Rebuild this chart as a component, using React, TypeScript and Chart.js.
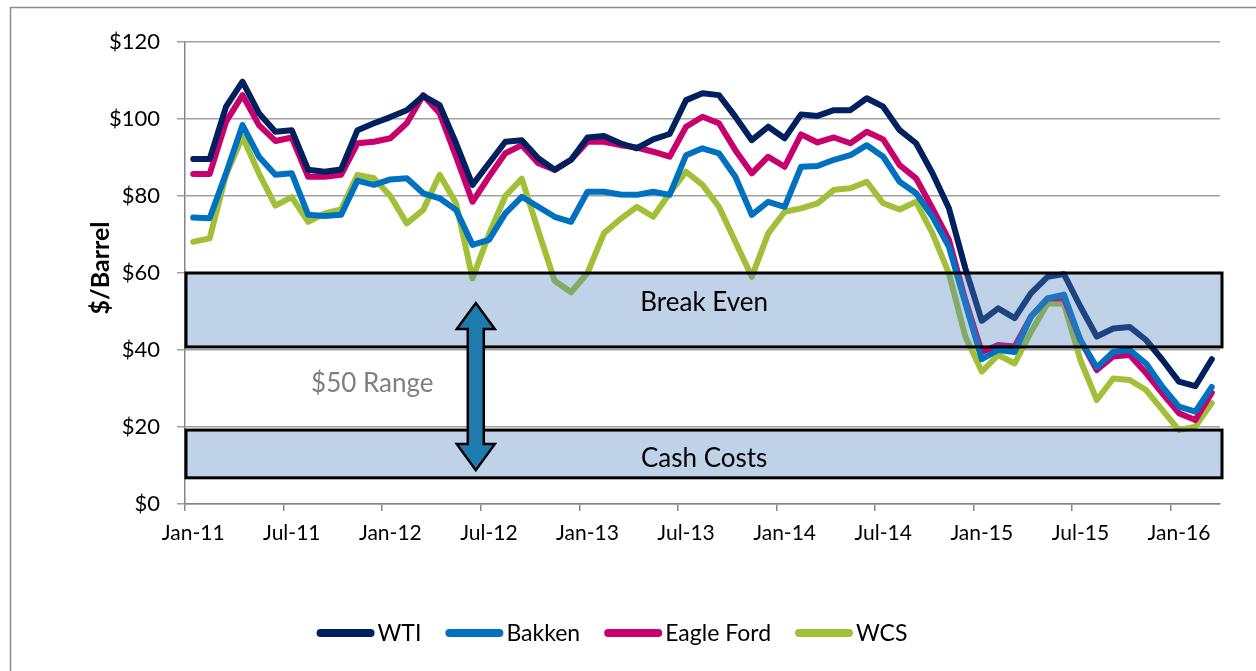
import React, { useEffect, useRef } from "react";
import { Chart, registerables } from "chart.js";

Chart.register(...registerables);

const MONTHS = ["Jan", "Feb", "Mar", "Apr", "May", "Jun", "Jul", "Aug", "Sep", "Oct", "Nov", "Dec"];
const YEARS = ["11", "12", "13", "14", "15", "16"];
const N_POINTS = 63;
const categories: string[] = [];
for (const y of YEARS) for (const m of MONTHS) categories.push(`${m}-${y}`);
const LABELS = categories.slice(0, N_POINTS);

const WTI = [
  89.6, 89.6, 103.2, 109.7, 101.5, 96.7, 97.1, 86.8, 86.3, 86.9, 97.1, 98.9,
  100.5, 102.3, 106.0, 103.6, 93.7, 82.9, 88.5, 94.1, 94.5, 89.8, 86.8, 89.4,
  95.2, 95.6, 93.7, 92.4, 94.7, 96.1, 104.9, 106.7, 106.2, 100.6, 94.5, 98.0,
  95.0, 101.2, 100.8, 102.3, 102.3, 105.4, 103.2, 97.1, 93.7, 85.9, 76.8, 61.2,
  47.6, 50.8, 48.3, 54.8, 59.0, 59.7, 51.3, 43.5, 45.6, 46.0, 42.6, 37.4,
  31.8, 30.6, 37.6,
];
const BAKKEN = [
  74.4, 74.2, 85.9, 98.4, 90.2, 85.5, 85.9, 75.1, 74.8, 75.1, 84.0, 82.9,
  84.3, 84.6, 80.7, 79.4, 76.4, 67.3, 68.6, 75.5, 79.8, 77.2, 74.6, 73.3,
  81.1, 81.1, 80.4, 80.3, 81.1, 80.3, 90.6, 92.4, 91.1, 85.0, 75.1, 78.5,
  77.2, 87.6, 87.8, 89.4, 90.6, 93.2, 90.2, 83.7, 80.7, 74.6, 66.8, 52.1,
  37.6, 40.0, 39.5, 48.7, 53.4, 54.4, 42.6, 35.5, 39.5, 40.0, 36.5, 30.4,
  25.3, 24.0, 30.4,
];
const EAGLE_FORD = [
  85.7, 85.7, 99.3, 106.2, 98.4, 94.3, 95.2, 85.0, 85.0, 85.5, 93.7, 94.1,
  95.0, 98.9, 106.2, 101.5, 90.2, 78.5, 85.0, 91.1, 93.2, 88.5, 86.8, 89.4,
  94.1, 94.1, 93.2, 92.6, 91.5, 90.2, 98.0, 100.6, 98.9, 91.9, 85.9, 90.2,
  87.6, 96.0, 93.9, 95.2, 93.7, 96.7, 94.7, 88.0, 84.6, 76.8, 68.6, 53.0,
  39.5, 41.3, 40.9, 48.7, 53.4, 53.4, 42.6, 34.8, 38.3, 38.7, 34.0, 28.7,
  23.6, 21.8, 28.9,
];
const WCS = [
  68.1, 69.0, 85.5, 95.4, 85.9, 77.5, 79.7, 73.3, 75.5, 76.5, 85.5, 84.6,
  80.0, 72.9, 76.4, 85.5, 78.1, 58.6, 70.0, 80.0, 84.5, 71.0, 58.0, 55.0,
  60.0, 70.3, 74.0, 77.2, 74.6, 80.7, 86.3, 82.9, 77.2, 68.1, 59.0, 70.3,
  75.9, 76.8, 78.1, 81.6, 82.0, 83.7, 78.1, 76.5, 78.5, 70.3, 59.9, 43.5,
  34.4, 38.7, 36.5, 44.7, 52.1, 52.1, 37.4, 27.0, 32.6, 32.2, 29.6, 24.4,
  19.2, 20.1, 26.2,
];

const SERIES_NAMES = ["WTI", "Bakken", "Eagle Ford", "WCS"];
const SERIES_COLORS = ["#002060", "#0070C0", "#C8006E", "#A2C037"];
const Y_TICKS = [0, 20, 40, 60, 80, 100, 120];

// annotation bands (in $/barrel)
const BREAK_EVEN = { top: 60, bottom: 40.8, label: "Break Even" };
const CASH_COSTS = { top: 19.2, bottom: 6.8, label: "Cash Costs" };
const RANGE_LABEL = { text: "$50 Range", xIndex: 10.9, y: 31.2 };
const ARROW = { xIndex: 17.2, top: 52.2, bottom: 8.8 };
const BAND_TEXT_X_INDEX = 31.1;
const BREAK_EVEN_TEXT_Y = 52.2;
const CASH_COSTS_TEXT_Y = 11.7;

const FONT = "Lato, 'Open Sans', sans-serif";

const annotationPlugin = {
  id: "annotations",
  afterDatasetsDraw(chart: any) {
    const { ctx, chartArea, scales } = chart;
    const x = scales.x;
    const y = scales.y;
    ctx.save();
    const drawBand = (b: any) => {
      const top = y.getPixelForValue(b.top);
      const bot = y.getPixelForValue(b.bottom);
      const l = chartArea.left + 1;
      const r = chartArea.right + 2;
      ctx.fillStyle = "rgba(79,129,189,0.36)";
      ctx.fillRect(l, top, r - l, bot - top);
      ctx.lineWidth = 3;
      ctx.strokeStyle = "#000";
      ctx.strokeRect(l, top, r - l, bot - top);
    };
    drawBand(BREAK_EVEN);
    drawBand(CASH_COSTS);

    ctx.fillStyle = "#000";
    ctx.font = `26px ${FONT}`;
    ctx.textAlign = "center";
    ctx.textBaseline = "middle";
    const bx = x.getPixelForValue(BAND_TEXT_X_INDEX);
    ctx.fillText(BREAK_EVEN.label, bx, y.getPixelForValue(BREAK_EVEN_TEXT_Y));
    ctx.fillText(CASH_COSTS.label, bx, y.getPixelForValue(CASH_COSTS_TEXT_Y));

    ctx.fillStyle = "#7F7F7F";
    ctx.fillText(RANGE_LABEL.text, x.getPixelForValue(RANGE_LABEL.xIndex), y.getPixelForValue(RANGE_LABEL.y));

    // double-headed arrow
    const ax = x.getPixelForValue(ARROW.xIndex);
    const at = y.getPixelForValue(ARROW.top);
    const ab = y.getPixelForValue(ARROW.bottom);
    const hw = 19;
    const hh = 26;
    const sw = 8;
    ctx.beginPath();
    ctx.moveTo(ax, at);
    ctx.lineTo(ax + hw, at + hh);
    ctx.lineTo(ax + sw, at + hh);
    ctx.lineTo(ax + sw, ab - hh);
    ctx.lineTo(ax + hw, ab - hh);
    ctx.lineTo(ax, ab);
    ctx.lineTo(ax - hw, ab - hh);
    ctx.lineTo(ax - sw, ab - hh);
    ctx.lineTo(ax - sw, at + hh);
    ctx.lineTo(ax - hw, at + hh);
    ctx.closePath();
    ctx.fillStyle = "#1F7BAE";
    ctx.fill();
    ctx.lineWidth = 2.5;
    ctx.lineJoin = "miter";
    ctx.strokeStyle = "#000";
    ctx.stroke();
    ctx.restore();
  },
  afterDraw(chart: any) {
    const { ctx } = chart;
    ctx.save();
    // frame
    ctx.strokeStyle = "#8C8C8C";
    ctx.lineWidth = 1.5;
    ctx.beginPath();
    ctx.moveTo(10.5, 671);
    ctx.lineTo(10.5, 7.5);
    ctx.lineTo(1256, 7.5);
    ctx.stroke();

    // y-axis title
    ctx.translate(101, 268);
    ctx.rotate(-Math.PI / 2);
    ctx.fillStyle = "#000";
    ctx.font = `bold 25px ${FONT}`;
    ctx.textAlign = "center";
    ctx.textBaseline = "middle";
    ctx.fillText("$/Barrel", 0, 0);
    ctx.restore();

    // legend
    ctx.save();
    ctx.font = `23px ${FONT}`;
    ctx.textBaseline = "middle";
    ctx.textAlign = "left";
    const lineLen = 58;
    const gapLineText = 3;
    const gapItems = 24;
    const widths = SERIES_NAMES.map((n) => ctx.measureText(n).width);
    const total = widths.reduce((a, w) => a + lineLen + gapLineText + w, 0) + gapItems * (SERIES_NAMES.length - 1);
    let cx = 612 - total / 2;
    const ly = 633;
    SERIES_NAMES.forEach((n, i) => {
      ctx.strokeStyle = SERIES_COLORS[i];
      ctx.lineWidth = 8;
      ctx.lineCap = "round";
      ctx.beginPath();
      ctx.moveTo(cx + 4, ly);
      ctx.lineTo(cx + lineLen - 4, ly);
      ctx.stroke();
      ctx.fillStyle = "#000";
      ctx.fillText(n, cx + lineLen + gapLineText, ly + 1);
      cx += lineLen + gapLineText + widths[i] + gapItems;
    });
    ctx.restore();
  },
};

export default function App() {
  const ref = useRef<HTMLCanvasElement | null>(null);
  useEffect(() => {
    if (!ref.current) return;
    const seriesData = [WTI, BAKKEN, EAGLE_FORD, WCS];
    const chart = new Chart(ref.current, {
      type: "line",
      data: {
        labels: LABELS,
        datasets: SERIES_NAMES.map((name, i) => ({
          label: name,
          data: seriesData[i],
          borderColor: SERIES_COLORS[i],
          backgroundColor: SERIES_COLORS[i],
          borderWidth: 6,
          pointRadius: 0,
          tension: 0,
          borderJoinStyle: "round" as const,
          borderCapStyle: "round" as const,
        })),
      },
      options: {
        responsive: false,
        animation: false,
        devicePixelRatio: 1,
        layout: { padding: { left: 0, top: 42, right: 36, bottom: 0 } },
        plugins: { legend: { display: false }, tooltip: { enabled: false } },
        scales: {
          x: {
            type: "category",
            offset: true,
            afterFit(scale: any) {
              scale.height = 167;
            },
            border: { display: true, color: "#868686", width: 1.5 },
            grid: {
              offset: true,
              drawOnChartArea: false,
              drawTicks: true,
              tickLength: 7,
              lineWidth: 1.5,
              color: (c: any) => (c.index % 6 === 0 ? "#868686" : "rgba(0,0,0,0)"),
            },
            ticks: {
              autoSkip: false,
              maxRotation: 0,
              minRotation: 0,
              padding: 10,
              color: "#000",
              font: { family: FONT, size: 21 },
              callback: (_v: any, i: number) => (i % 6 === 0 ? LABELS[i] : ""),
            },
          },
          y: {
            min: 0,
            max: 120,
            afterFit(scale: any) {
              scale.width = 185;
            },
            afterBuildTicks(scale: any) {
              scale.ticks = Y_TICKS.map((v) => ({ value: v }));
            },
            border: { display: true, color: "#868686", width: 1.5 },
            grid: {
              color: "#A0A0A0",
              lineWidth: 1.5,
              drawTicks: true,
              tickLength: 8,
            },
            ticks: {
              padding: 17,
              color: "#000",
              font: { family: FONT, size: 22 },
              callback: (v: any) => `$${v}`,
            },
          },
        },
      },
      plugins: [annotationPlugin],
    });
    return () => chart.destroy();
  }, []);
  return (
    <div style={{ position: "fixed", left: 0, top: 0, width: 1256, height: 671, background: "#fff" }}>
      <canvas ref={ref} width={1256} height={671} style={{ width: 1256, height: 671, display: "block" }} />
    </div>
  );
}
